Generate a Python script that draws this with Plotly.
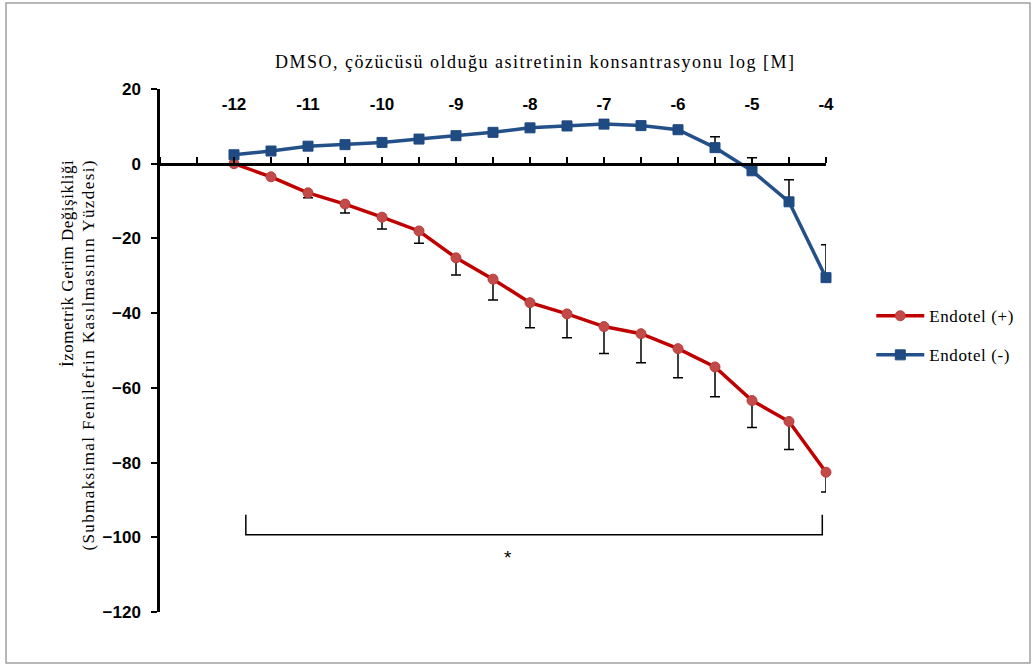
import plotly.graph_objects as go

# Concentration (log M) for both series
log_conc = [-12, -11.5, -11, -10.5, -10, -9.5, -9, -8.5, -8,
            -7.5, -7, -6.5, -6, -5.5, -5, -4.5, -4]

# Endothelium-intact rings: mean % change and SEM (drawn downward)
endo_pos = [0, -3.5, -7.8, -10.8, -14.3, -18.0, -25.2, -30.9, -37.2,
            -40.2, -43.6, -45.5, -49.5, -54.4, -63.4, -69.0, -82.6]
endo_pos_sem = [0, 0, 1.3, 2.4, 3.2, 3.3, 4.6, 5.6, 6.7,
                6.4, 7.2, 7.8, 7.8, 8.0, 7.2, 7.5, 5.3]

# Endothelium-denuded rings: mean % change and SEM (drawn upward)
endo_neg = [2.4, 3.4, 4.7, 5.1, 5.7, 6.6, 7.5, 8.4, 9.6,
            10.1, 10.6, 10.2, 9.1, 4.3, -1.9, -10.2, -30.5]
endo_neg_sem = [0, 0, 0, 0, 0, 0, 0, 0, 0,
                1.2, 1.2, 0, 0, 2.9, 3.5, 5.9, 8.8]

x_tickvals = [-12, -11, -10, -9, -8, -7, -6, -5, -4]
x_ticktext = ["-12", "-11", "-10", "-9", "-8", "-7", "-6", "-5", "-4"]
y_tickvals = [20, 0, -20, -40, -60, -80, -100, -120]

# Significance bracket spanning the concentration range
bracket_x = [-11.84, -4.05]
bracket_y = [-94.0, -99.3]
star_pos = (-8.3, -105.3)

serif = "Liberation Serif, Times New Roman, serif"
sans = "Liberation Sans, Arial, sans-serif"


def spaced(text, px):
    """Wrap text in a span with extra letter spacing."""
    return f'<span style="letter-spacing:{px}px">{text}</span>'


fig = go.Figure()

fig.add_trace(go.Scatter(
    x=log_conc, y=endo_pos, name=spaced("Endotel (+)", 0.6), legendgroup="a",
    mode="lines+markers",
    line=dict(color="#C00000", width=3.5),
    marker=dict(symbol="circle", size=10, color="#C24A48",
                line=dict(color="#B8403E", width=1)),
    error_y=dict(type="data", symmetric=False,
                 array=[0] * len(endo_pos_sem), arrayminus=endo_pos_sem,
                 color="#000000", thickness=1.5, width=5),
    cliponaxis=False,
))

fig.add_trace(go.Scatter(
    x=log_conc, y=endo_neg, name=spaced("Endotel (-)", 0.6), legendgroup="b",
    mode="lines+markers",
    line=dict(color="#24508A", width=3.5),
    marker=dict(symbol="square", size=10, color="#1F4A82",
                line=dict(color="#1F4A82", width=1)),
    error_y=dict(type="data", symmetric=False,
                 array=endo_neg_sem, arrayminus=[0] * len(endo_neg_sem),
                 color="#000000", thickness=1.5, width=5),
    cliponaxis=False,
))

# bracket and asterisk
fig.add_shape(type="path",
              path=(f"M {bracket_x[0]} {bracket_y[0]} L {bracket_x[0]} {bracket_y[1]} "
                    f"L {bracket_x[1]} {bracket_y[1]} L {bracket_x[1]} {bracket_y[0]}"),
              xref="x", yref="y", line=dict(color="#000000", width=1.5))
fig.add_annotation(x=star_pos[0], y=star_pos[1], xref="x", yref="y",
                   text="*", showarrow=False,
                   font=dict(family=sans, size=19, color="#000000"))

# outer frame
fig.add_shape(type="rect", xref="paper", yref="paper",
              x0=-0.2312, x1=1.3063, y0=-0.0975, y1=1.1644,
              line=dict(color="#A0A0A0", width=1.5))

# top title
fig.add_annotation(x=0.563, y=1.0516, xref="paper", yref="paper",
                   text=spaced("DMSO, çözücüsü olduğu asitretinin konsantrasyonu log [M]", 1.5),
                   showarrow=False, xanchor="center", yanchor="middle",
                   font=dict(family=serif, size=18, color="#000000"))

# two-line rotated y title
fig.add_annotation(x=-0.139, y=0.868, xref="paper", yref="paper",
                   text=spaced("İzometrik Gerim Değişikliği", 0.5), textangle=-90,
                   showarrow=False, xanchor="center", yanchor="top",
                   font=dict(family=serif, size=17, color="#000000"))
fig.add_annotation(x=-0.108, y=0.868, xref="paper", yref="paper",
                   text=spaced("(Submaksimal Fenilefrin Kasılmasının Yüzdesi)", 1.4),
                   textangle=-90,
                   showarrow=False, xanchor="center", yanchor="top",
                   font=dict(family=serif, size=17, color="#000000"))

fig.update_layout(
    width=1035, height=666,
    margin=dict(l=160, r=209, t=89, b=54),
    paper_bgcolor="#FFFFFF", plot_bgcolor="#FFFFFF",
    showlegend=True,
    legend=dict(x=1.068, y=0.6, xanchor="left", yanchor="top",
                font=dict(family=serif, size=17, color="#000000"),
                itemwidth=48,
                tracegroupgap=14, bgcolor="rgba(0,0,0,0)"),
    xaxis=dict(range=[-13, -4], side="top", anchor="free",
               position=120 / 140,
               tickvals=x_tickvals, ticktext=x_ticktext,
               ticks="outside", ticklen=6, tickwidth=2, tickcolor="#000000",
               minor=dict(dtick=0.5, tick0=-13, ticks="outside", ticklen=6,
                          tickwidth=2, tickcolor="#000000"),
               ticklabelstandoff=40,
               tickfont=dict(family=sans, size=17, color="#000000", weight="bold"),
               showline=True, linecolor="#000000", linewidth=2.5,
               showgrid=False, zeroline=False),
    yaxis=dict(range=[-120, 20], tickvals=y_tickvals,
               ticks="outside", ticklen=6, tickwidth=2, tickcolor="#000000",
               ticklabelstandoff=7,
               tickfont=dict(family=sans, size=17, color="#000000", weight="bold"),
               showline=True, linecolor="#000000", linewidth=2.5,
               showgrid=False, zeroline=False),
)

fig.write_html("out.html")
